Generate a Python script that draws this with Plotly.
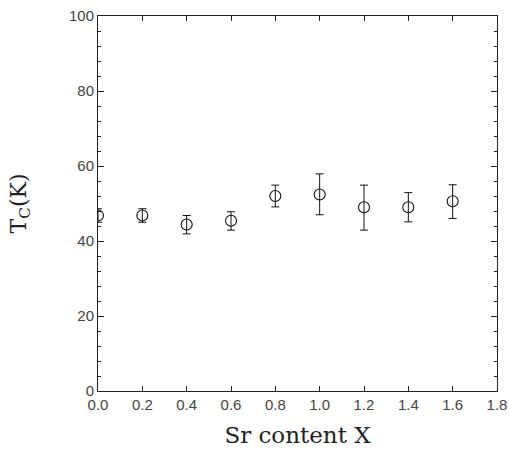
import plotly.graph_objects as go

sr_content = [0.0, 0.2, 0.4, 0.6, 0.8, 1.0, 1.2, 1.4, 1.6]
tc_values = [46.8, 46.8, 44.4, 45.4, 52.0, 52.4, 49.0, 49.0, 50.6]
tc_err_plus = [1.8, 1.8, 2.4, 2.4, 2.9, 5.5, 5.9, 3.9, 4.4]
tc_err_minus = [1.8, 1.8, 2.5, 2.5, 2.9, 5.4, 6.1, 3.9, 4.6]

x_ticks = [0.0, 0.2, 0.4, 0.6, 0.8, 1.0, 1.2, 1.4, 1.6, 1.8]
y_ticks = [0, 20, 40, 60, 80, 100]

fig = go.Figure()
fig.add_trace(go.Scatter(
    x=sr_content, y=tc_values, mode="markers",
    marker=dict(symbol="circle-open", size=11, color="#111", line=dict(width=1.1, color="#111")),
    error_y=dict(type="data", symmetric=False, array=tc_err_plus, arrayminus=tc_err_minus,
                 color="#111", thickness=1, width=4),
    showlegend=False,
))

axis_common = dict(
    showgrid=False, zeroline=False, showline=True, linecolor="#222", linewidth=1,
    mirror="ticks", ticks="inside", tickcolor="#222", tickwidth=1,
    tickfont=dict(family="Liberation Sans", size=15, color="#444"),
    ticklabeloverflow="allow", automargin=False,
)

fig.update_xaxes(
    range=[0, 1.8], tickvals=x_ticks, ticktext=[f"{v:.1f}" for v in x_ticks], ticklen=5,
    title=dict(text="Sr content X", font=dict(family="DejaVu Serif", size=23, color="#222"), standoff=14),
    **axis_common,
)
fig.update_yaxes(
    range=[0, 100], tickvals=y_ticks, ticklen=6,
    minor=dict(dtick=4, ticks="inside", ticklen=3, tickcolor="#222", showgrid=False),
    title=dict(text="T<sub>C</sub>(K)", font=dict(family="DejaVu Serif", size=22, color="#222"), standoff=36),
    **axis_common,
)

fig.update_layout(
    width=510, height=464,
    margin=dict(l=98, r=13, t=16, b=73),
    paper_bgcolor="white", plot_bgcolor="white",
)

fig.write_html("out.html", config={"displayModeBar": False},
               post_script="document.body.style.margin='0';document.body.style.overflow='hidden';")
